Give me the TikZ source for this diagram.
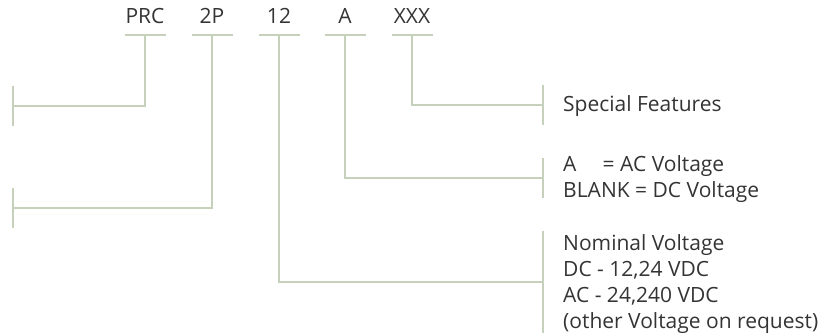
\documentclass[tikz,border=0pt]{standalone}
\usepackage{fontspec}
\setmainfont{Open Sans}
\usetikzlibrary{positioning,calc}
\definecolor{keyGreen}{RGB}{197,209,186}
\definecolor{keyText}{RGB}{52,52,52}
\tikzset{
  codetext/.style={anchor=base, text=keyText, inner sep=0pt, font=\fontsize{21}{26}\selectfont},
  codebar/.style={fill=keyGreen, inner sep=0pt, minimum width=41pt, minimum height=2.6pt},
  tickbar/.style={fill=keyGreen, inner sep=0pt, minimum width=2.6pt, minimum height=40pt},
  desc/.style={anchor=west, text=keyText, inner sep=0pt, align=left, font=\fontsize{21}{26}\selectfont},
  link/.style={draw=keyGreen, line width=2.6pt}
}
\begin{document}
\begin{tikzpicture}[x=1pt, y=-1pt]
\useasboundingbox (0,0) rectangle (833,333);

% Code parts
\node[codetext] (prc) at (145,23) {PRC};
\node[codetext] (pole) at (212,23) {2P};
\node[codetext] (volt) at (279,23) {12};
\node[codetext] (acdc) at (345,23) {A};
\node[codetext] (spec) at (412,23) {XXX};
\node[codebar] (prcbar) at (145,35) {};
\node[codebar] (polebar) at (212,35) {};
\node[codebar] (voltbar) at (279,35) {};
\node[codebar] (acdcbar) at (345,35) {};
\node[codebar] (specbar) at (412,35) {};

% Ticks
\node[tickbar] (prctick) at (13,106) {};
\node[tickbar] (poletick) at (13,208) {};
\node[tickbar] (spectick) at (543,105) {};
\node[tickbar] (acdctick) at (543,178) {};
\node[tickbar, minimum height=102pt] (volttick) at (543,282) {};

% Connectors
\draw[link] (prcbar.center) |- (prctick.center);
\draw[link] (polebar.center) |- (poletick.center);
\draw[link] (specbar.center) |- (spectick.center);
\draw[link] (acdcbar.center) |- (acdctick.center);
\draw[link] (voltbar.center) |- (volttick.center);

% Descriptions
\node[desc] (specdesc) at (563,106) {Special Features};
\node[desc] (acdcdesc) at (563,179) {A\hspace{1.25em}= AC Voltage\\BLANK = DC Voltage};
\node[desc] (voltdesc) at (563,284) {Nominal Voltage\\DC - 12,24 VDC\\AC - 24,240 VDC\\(other Voltage on request)};
\end{tikzpicture}
\end{document}
